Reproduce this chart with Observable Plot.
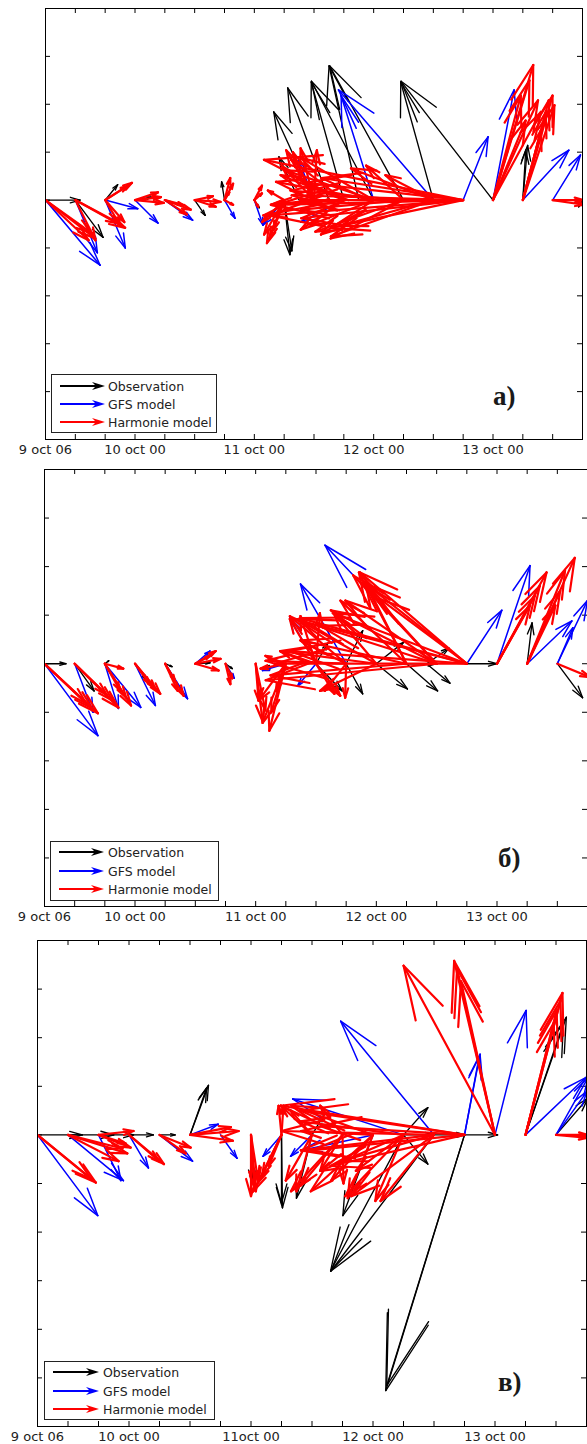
<!DOCTYPE html>
<html><head><meta charset="utf-8">
<script src="https://cdn.jsdelivr.net/npm/d3@7"></script>
<script src="https://cdn.jsdelivr.net/npm/@observablehq/plot@0.6"></script>
<style>
html,body{margin:0;padding:0;background:#fff;}
#wrap{position:relative;width:587px;height:1444px;overflow:hidden;background:#fff;}
.tag{position:absolute;font-family:"Liberation Serif",serif;font-weight:bold;font-size:27px;line-height:27px;color:#1a1a1a;white-space:nowrap;}
</style></head>
<body><div id="wrap"></div>
<script>
// ---------- common axis data ----------
const xTickHours = d3.range(0, 109, 6);            // 9 oct 06 .. 13 oct 18, every 6 h
const xLabelHours = [0, 18, 42, 66, 90];
const xLabelsAB = ["9 oct 06", "10 oct 00", "11 oct 00", "12 oct 00", "13 oct 00"];
const xLabelsC  = ["9 oct 06", "10 oct 00", "11oct 00", "12 oct 00", "13 oct 00"];
const legendNames = ["Observation", "GFS model", "Harmonie model"];
const panelTags = ["a)", "б)", "в)"];

// ---------- panel a ----------
const obsA_t = [0,6,12,18,24,30,36,42,48,48,51,54,57,60,63,66,72,78,90,96,96,108];
const obsA_u = [3.6,2.9,1.3,1.7,0.8,1.1,-0.3,0.5,0.6,0.8,-2.1,-4.2,-4.3,-3.4,-3.1,-6.5,-7.7,-3.4,-9.6,0.5,0.3,-0.4];
const obsA_v = [0,-3.9,1.6,0.3,-0.3,-1.6,1.9,-0.8,-5.7,-5.3,4.5,9.2,11.7,12.3,14.0,12.4,14.0,12.3,12.4,5.7,5.2,-0.7];

const gfsA_t = [0,6,12,12,18,24,36,42,48,54,60,66,78,84,90,96,102];
const gfsA_u = [5.7,2.3,2.1,3.4,2.4,2.9,1.1,0.9,-2.2,-1.6,-4.5,-3.4,-9.9,2.6,2.2,4.8,2.9];
const gfsA_v = [-6.8,-5.5,-5.0,-0.9,-2.4,-2.1,-1.9,-2.6,-2.6,4.2,-2.3,10.9,11.5,6.6,11.5,5.2,4.7];

const harA_t = [
0,0,0, 6,6,6, 12,12,12,12, 18,18,18, 24,24,24, 30,30,30, 36,36,36,36, 42,42,42,
48,48,48,48,48,48, 54,54,54,54,54,54, 60,60,60,60,60, 66,66,66,66,66, 72,72,72,72,72,
78,78,78,78,78, 84,84,84,84,84,84,84,84, 90,90,90,90,90,90, 96,96,96,96,96, 102,102];
const harA_u = [
5.2,4.9,4.5, 5.2,4.7,2.1, 2.8,2.4,1.6,2.0, 2.7,3.0,2.4, 2.7,2.3,1.9, 2.2,1.9,2.7, 0.6,0.9,0.5,0.9, 0.8,0.4,0.8,
-1.8,-1.5,-2.1,-1.1,-2.3,-1.7, -2.9,-2.2,-1.4,0.3,-3.4,-4.5, -7.6,-8.4,-6.6,-5.5,-4.5, -9.2,-10.2,-7.6,-6.6,-5.5, -11.8,-10.7,-9.2,-7.6,-3.9,
-13.9,-10.7,-9.7,-8.6,-5.0, -20.2,-19.5,-17.9,-16.4,-14.8,-16.9,-13.8,-20.8, 4.2,3.8,2.9,4.7,3.4,5.0, 3.1,2.7,2.4,1.9,3.3, 3.2,3.3];
const harA_v = [
-4.0,-3.5,-4.2, -2.9,-2.5,-4.2, 1.8,1.5,-2.7,-2.3, 0.3,-0.3,0.8, -1.0,-1.5,-0.5, -0.7,0.4,-0.2, 2.3,1.7,0.8,-0.5, 0.7,-0.7,1.5,
-4.5,-4.0,-3.6,-3.1,-2.3,1.0, 5.2,5.0,5.4,5.2,3.6,-0.5, -0.5,-1.6,2.6,4.2,-3.1, 3.1,1.9,4.4,-2.6,-3.6, 1.0,-1.0,-3.3,-4.0,3.6,
0,-3.8,-2.7,3.3,2.6, -1.6,-0.5,0.5,1.8,2.3,-1.9,-2.9,4.2, 14.1,12.5,10.9,10.4,8.3,9.2, 10.9,10.4,9.2,7.3,9.9, 0,-0.5];

// ---------- panel б ----------
const obsB_t = [0,6,12,18,24,30,36,48,54,54,60,60,66,66,72,72,76,76,84,96,102];
const obsB_u = [2.2,2.0,0.4,1.2,0.7,1.5,0.7,-2.3,2.7,1.2,1.7,1.7,3.2,2.8,3.1,3.2,2.4,2.3,3.1,0.5,2.6];
const obsB_v = [0,-2.8,0.3,-1.7,-0.3,0.1,-0.5,-0.5,-2.8,2.1,-3.1,3.4,-2.6,2.2,0,-2.8,-2.0,1.6,0,4.2,-3.5];

const gfsB_t = [0,6,12,12,18,24,30,36,48,54,54,60,78,84,90,96,102,102];
const gfsB_u = [5.5,1.9,1.4,3.7,2.1,2.3,1.5,0.9,-2.4,-2.7,-1.9,-4.7,-11.5,3.6,3.4,4.6,1.6,3.1];
const gfsB_v = [-7.4,-5.0,-4.6,-4.5,-4.3,-3.6,1.3,-1.5,-0.7,4.7,-2.3,8.2,12.2,5.5,10.1,4.4,3.7,6.5];

const harB_t = [
0,0,0, 6,6,6, 12,12,12,12, 18,18,18, 24,24,24, 30,30,30,30, 36,36, 42,42,42,
48,48,48,48,48,48,48, 54,54,54,54,54,54, 60,60,60,60,60, 66,66,66,66, 72,72,72,72,72,
78,78,78,78,78,78, 84,84,84,84,84,84,84,84, 90,90,90,90, 96,96,96,96, 102];
const harB_u = [
5.5,4.9,4.3, 4.5,3.9,3.3, 2.7,2.2,1.6,1.9, 2.6,2.1,1.5, 1.9,1.3,1.0, 2.1,2.6,2.4,1.5, 0.5,0.7, 0.7,0.3,1.0,
-1.7,-2.4,-1.5,-2.8,-1.0,-2.6,-2.1, -2.7,-1.6,0.4,1.9,2.5,-3.7, -8.3,-5.8,-4.7,-2.2,-0.1, -9.9,-7.8,-4.4,-5.8, -14.0,-10.9,-6.8,-4.9,-4.2,
-17.6,-14.5,-10.9,-8.6,-7.6,-9.4, -19.8,-17.2,-13.8,-11.0,-10.5,-9.0,-18.2,-15.1, 5.1,4.4,3.9,3.4, 4.9,3.9,3.4,2.9, 3.4];
const harB_v = [
-5.1,-4.6,-4.1, -4.5,-3.8,-3.2, -4.3,-3.5,-2.8,-0.5, -3.1,-2.6,-2.1, -3.3,-2.8,-1.7, 1.3,0.5,-0.7,0.8, -2.1,-1.5, -5.9,-3.8,-4.8,
-6.9,-6.1,-5.0,-3.8,-2.8,-0.5,0.8, 4.6,4.9,5.2,-3.1,-3.3,1.3, 0.3,4.9,2.4,-2.8,-3.5, 1.3,4.4,5.2,-2.8, -1.2,2.4,6.5,9.4,8.3,
-1.7,4.6,5.5,9.1,8.3,6.5, 0,4.7,5.2,9.4,8.3,6.7,1.3,3.9, 9.4,8.0,7.0,6.0, 10.9,9.6,7.5,6.0, -1.4];

// ---------- panel в ----------
const obsC_t = [0,6,12,18,24,30,30,42,48,48,54,54,66,72,72,72,72,78,78,84,84,84,96,96,102];
const obsC_u = [4.6,4.7,3.6,2.5,1.6,1.9,1.7,0.2,0.1,0.0,-1.6,1.2,-3.1,2.5,2.5,3.1,-7.5,-10.6,3.2,-8.1,-8.0,3.4,4.2,3.9,3.3];
const obsC_v = [0,0,0,0,0,5.1,4.8,-5.0,-7.5,-7.0,-6.5,2.0,-8.3,2.8,-3.0,0,-14.0,-14.0,0,-26.3,-25.8,0,12.1,11.5,3.8];

const gfsC_t = [0,6,12,18,24,30,36,48,54,66,72,78,84,84,90,96,102,102];
const gfsC_u = [6.2,5.7,2.3,2.0,3.4,2.9,1.7,-1.9,-2.2,-7.4,-11.4,-9.6,1.6,1.5,3.2,6.2,3.3,3.2];
const gfsC_v = [-8.3,-4.7,-4.7,-3.4,-2.7,1.1,-2.4,-2.2,-2.2,-1.6,3.7,11.7,8.3,8.0,12.8,5.9,5.9,4.5];

const harC_t = [
0,0, 6,6,6, 12,12,12, 18,18, 24,24, 30,30,30, 42,42,42,42, 48,48,48,48,48,48, 54,54,54,54,
60,60,60,60,60, 66,66,66,66,66, 72,72,72,72,72, 78,78,78,78,78, 84,84,84,84,84, 90,90,90,90, 96,96,96,96, 102,102];
const harC_u = [
6.0,5.5, 6.1,5.6,5.2, 3.3,3.6,2.8, 3.6,3.1, 3.2,2.7, 5.0,4.4,4.2, 0.5,0.3,0.7,0, -2.9,-2.4,-2.0,-1.3,-0.3,0.2, -3.2,-2.2,-2.7,-1.6,
-5.3,-4.3,-2.3,0.1,-2.3, -6.4,-4.3,-2.6,-7.4,-8.4, -6.0,-2.9,-8.5,-4.9,-10.6, -15.7,-13.7,-8.5,-5.5,-9.6, -18.9,-16.9,-14.8,-15.8,-13.8,
-9.4,-4.2,-3.9,-3.5, 3.8,3.6,3.2,2.9, 3.3,3.3];
const harC_v = [
-4.9,-4.5, -1.9,-1.4,-2.7, -1.3,0.4,-0.9, -3.0,-2.7, -1.3,-1.9, 0.4,-0.6,0.8, -5.8,-5.2,-4.5,-6.3, -5.8,-4.9,-4.2,-3.2,3.0,3.0, 3.0,2.5,-4.7,-5.8,
-5.8,-5.2,-3.7,-5.0,3.0, -5.8,-4.7,-6.5,0.4,3.0, -6.3,-6.8,-3.7,-3.7,1.4, 0.4,-1.6,-6.3,-6.8,-2.7, 3.0,2.5,0.9,-1.6,-3.2,
17.4,17.9,17.1,15.8, 14.6,13.8,12.8,11.5, 0,-0.3];

// ---------- drawing ----------
const W = 587;
const colors = {obs: "#000000", gfs: "#0000ff", har: "#ff0000"};

// feather arrows: shaft from (t,0) plus two head barbs, in data units
function featherSegments(T, U, V, k) {
  const segs = [];
  const hl = 0.28, hw = 0.08;
  for (let i = 0; i < T.length; i++) {
    const u = U[i], v = V[i];
    const tx = T[i] + u * k, ty = v;
    segs.push({x1: T[i], y1: 0, x2: tx, y2: ty});
    for (const s of [1, -1]) {
      const bu = -hl * u - s * hw * v;
      const bv = -hl * v + s * hw * u;
      segs.push({x1: tx, y1: ty, x2: tx + bu * k, y2: ty + bv});
    }
  }
  return segs;
}

function panel(cfg) {
  const plotW = W - cfg.ml - cfg.mr, plotH = cfg.height - cfg.mt - cfg.mb;
  const k = (plotH / (cfg.ydom[1] - cfg.ydom[0])) / (plotW / 108);
  const yTicks = d3.range(cfg.ydom[0], cfg.ydom[1] + 0.1, 5);
  const marks = [
    Plot.tickX(xTickHours, {x: d => d, insetBottom: plotH - 5, stroke: "#000"}),
    Plot.tickX(xTickHours, {x: d => d, insetTop: plotH - 5, stroke: "#000"}),
    Plot.tickY(yTicks, {y: d => d, insetRight: plotW - 5, stroke: "#000"}),
    Plot.tickY(yTicks, {y: d => d, insetLeft: plotW - 5, stroke: "#000"})
  ];
  for (const s of cfg.series) {
    marks.push(Plot.link(featherSegments(s.t, s.u, s.v, k), {
      x1: "x1", y1: "y1", x2: "x2", y2: "y2",
      stroke: s.color, strokeWidth: s.w, strokeLinecap: "round", clip: true
    }));
  }
  marks.push(Plot.frame({stroke: "#000", strokeWidth: 1}));
  marks.push(Plot.axisX(xLabelHours, {
    tickSize: 0, tickPadding: cfg.pad, label: null,
    tickFormat: (d) => cfg.labels[xLabelHours.indexOf(d)],
    fill: "#222"
  }));
  const svg = Plot.plot({
    width: W, height: cfg.height,
    marginTop: cfg.mt, marginBottom: cfg.mb, marginLeft: cfg.ml, marginRight: cfg.mr,
    x: {domain: [0, 108]},
    y: {domain: cfg.ydom, axis: null},
    style: {fontFamily: "DejaVu Sans", fontSize: "13px", background: "transparent", overflow: "visible"},
    marks
  });
  svg.style.position = "absolute";
  svg.style.left = "0px";
  svg.style.top = cfg.top + "px";
  return svg;
}

function legendBox(l) {
  const cols = [colors.obs, colors.gfs, colors.har];
  let s = `<svg xmlns="http://www.w3.org/2000/svg" width="${l.w}" height="${l.h}" style="position:absolute;left:${l.left}px;top:${l.top}px">`;
  s += `<rect x="0.5" y="0.5" width="${l.w - 1}" height="${l.h - 1}" fill="#fff" stroke="#222" stroke-width="1"/>`;
  legendNames.forEach((name, i) => {
    const y = l.rows[i], c = cols[i];
    s += `<line x1="${l.a0}" y1="${y}" x2="${l.a1 - 8}" y2="${y}" stroke="${c}" stroke-width="2"/>`;
    s += `<path d="M${l.a1 - 13},${y - 4}L${l.a1},${y}L${l.a1 - 13},${y + 4}L${l.a1 - 9},${y}Z" fill="${c}"/>`;
    s += `<text x="${l.tx}" y="${y}" dy="0.36em" font-family="DejaVu Sans" font-size="12.5" fill="#222">${name}</text>`;
  });
  s += `</svg>`;
  return s;
}

const wrap = document.getElementById("wrap");
const widths = {obs: 1.35, gfs: 1.5, har: 2.2};

wrap.appendChild(panel({
  top: 0, height: 460, mt: 8, mb: 21, ml: 45, mr: 5, pad: 5, ydom: [-25, 20], labels: xLabelsAB,
  series: [
    {t: obsA_t, u: obsA_u, v: obsA_v, color: colors.obs, w: widths.obs},
    {t: gfsA_t, u: gfsA_u, v: gfsA_v, color: colors.gfs, w: widths.gfs},
    {t: harA_t, u: harA_u, v: harA_v, color: colors.har, w: widths.har}
  ]
}));
wrap.appendChild(panel({
  top: 460, height: 470, mt: 9, mb: 24, ml: 44, mr: 0, pad: 5, ydom: [-25, 20], labels: xLabelsAB,
  series: [
    {t: obsB_t, u: obsB_u, v: obsB_v, color: colors.obs, w: widths.obs},
    {t: gfsB_t, u: gfsB_u, v: gfsB_v, color: colors.gfs, w: widths.gfs},
    {t: harB_t, u: harB_u, v: harB_v, color: colors.har, w: widths.har}
  ]
}));
wrap.appendChild(panel({
  top: 930, height: 514, mt: 10, mb: 18, ml: 37, mr: 1, pad: 5, ydom: [-30, 20], labels: xLabelsC,
  series: [
    {t: obsC_t, u: obsC_u, v: obsC_v, color: colors.obs, w: widths.obs},
    {t: gfsC_t, u: gfsC_u, v: gfsC_v, color: colors.gfs, w: widths.gfs},
    {t: harC_t, u: harC_u, v: harC_v, color: colors.har, w: widths.har}
  ]
}));

wrap.insertAdjacentHTML("beforeend", legendBox({left: 51, top: 374, w: 166, h: 59, rows: [12, 30, 48], a0: 9, a1: 54, tx: 57}));
wrap.insertAdjacentHTML("beforeend", legendBox({left: 50, top: 841, w: 169, h: 60, rows: [11, 30, 48], a0: 9, a1: 54, tx: 58}));
wrap.insertAdjacentHTML("beforeend", legendBox({left: 44, top: 1361, w: 171, h: 59, rows: [11, 30, 48], a0: 9, a1: 55, tx: 59}));

const tagPos = [[493, 383], [498, 845], [498, 1369]];
panelTags.forEach((t, i) => {
  const d = document.createElement("div");
  d.className = "tag";
  d.style.left = tagPos[i][0] + "px";
  d.style.top = tagPos[i][1] + "px";
  d.textContent = t;
  wrap.appendChild(d);
});
</script>
</body></html>
